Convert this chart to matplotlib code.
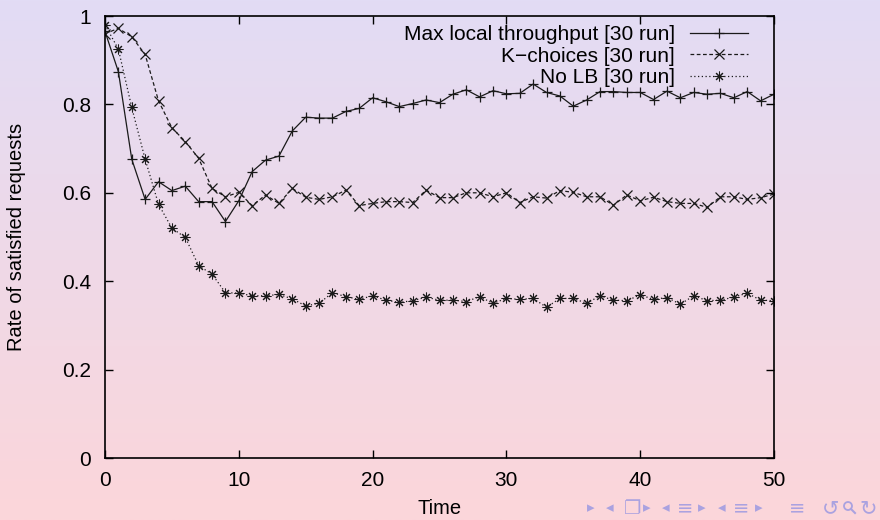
import numpy as np
import matplotlib
matplotlib.use("Agg")
import matplotlib.pyplot as plt
from matplotlib.colors import to_rgb
from matplotlib.patches import Ellipse
from matplotlib.lines import Line2D

# Data (time steps 0..50)
time = list(range(51))

max_local = [0.965, 0.874, 0.676, 0.585, 0.625, 0.605, 0.615, 0.580, 0.580, 0.535,
             0.582, 0.648, 0.674, 0.683, 0.740, 0.771, 0.769, 0.769, 0.784, 0.791,
             0.815, 0.806, 0.795, 0.802, 0.810, 0.804, 0.823, 0.833, 0.817, 0.831,
             0.824, 0.825, 0.846, 0.827, 0.819, 0.796, 0.810, 0.829, 0.829, 0.827,
             0.827, 0.811, 0.830, 0.815, 0.827, 0.823, 0.825, 0.815, 0.829, 0.808,
             0.823]

k_choices = [0.960, 0.972, 0.953, 0.913, 0.808, 0.747, 0.716, 0.678, 0.610, 0.591,
             0.601, 0.571, 0.595, 0.576, 0.610, 0.590, 0.585, 0.591, 0.606, 0.571,
             0.576, 0.580, 0.580, 0.578, 0.606, 0.589, 0.589, 0.600, 0.600, 0.591,
             0.600, 0.578, 0.591, 0.588, 0.605, 0.601, 0.591, 0.591, 0.572, 0.595,
             0.582, 0.590, 0.580, 0.576, 0.576, 0.567, 0.591, 0.591, 0.585, 0.589,
             0.597]

no_lb = [0.980, 0.925, 0.793, 0.676, 0.574, 0.520, 0.499, 0.435, 0.416, 0.374,
         0.373, 0.367, 0.367, 0.370, 0.360, 0.344, 0.350, 0.374, 0.365, 0.359,
         0.367, 0.357, 0.352, 0.356, 0.364, 0.357, 0.357, 0.354, 0.365, 0.350,
         0.361, 0.359, 0.361, 0.341, 0.361, 0.361, 0.350, 0.367, 0.357, 0.356,
         0.369, 0.359, 0.363, 0.348, 0.367, 0.356, 0.357, 0.364, 0.373, 0.357,
         0.356]

labels = ["Max local throughput [30 run]", "K\u2212choices [30 run]", "No LB [30 run]"]
x_ticks = [0, 10, 20, 30, 40, 50]
y_ticks = [0, 0.2, 0.4, 0.6, 0.8, 1]
y_tick_labels = ["0", "0.2", "0.4", "0.6", "0.8", "1"]

plt.rcParams['font.family'] = ['Liberation Sans', 'DejaVu Sans']

fig = plt.figure(figsize=(8.8, 5.2), dpi=100)

# Slide background: lavender at the top fading to pink at the bottom
top = np.array(to_rgb("#e2dcf5"))
bottom = np.array(to_rgb("#fcd6da"))
frac = np.linspace(0, 1, 256)[:, None]
grad = (top * (1 - frac) + bottom * frac)[:, None, :]
bg = fig.add_axes([0, 0, 1, 1], zorder=0)
bg.imshow(grad, aspect='auto', extent=[0, 1, 0, 1])
bg.axis('off')

ax = fig.add_axes([105 / 880, 1 - 458 / 520, 669 / 880, 442 / 520], zorder=1)
ax.patch.set_alpha(0)

line_col = '#1a1a1a'
ax.plot(time, max_local, color=line_col, lw=0.9, marker='+', ms=7.5, mew=0.9,
        label=labels[0])
ax.plot(time, k_choices, color=line_col, lw=0.9, dashes=(3, 2), marker='x', ms=6.5,
        mew=0.9, label=labels[1])
ax.plot(time, no_lb, color=line_col, lw=0.9, dashes=(1, 2), marker=(8, 2, 0), ms=7,
        mew=0.75, label=labels[2])

ax.set_xlim(0, 50)
ax.set_ylim(0, 1)
ax.set_xticks(x_ticks)
ax.set_yticks(y_ticks)
ax.set_yticklabels(y_tick_labels)
ax.tick_params(direction='in', length=6, width=1, top=True, right=True,
               labelsize=15)
ax.tick_params(axis='x', pad=9)
ax.tick_params(axis='y', pad=10)
for sp in ax.spines.values():
    sp.set_linewidth(1.2)

ax.set_xlabel("Time", fontsize=14.5)
ax.xaxis.set_label_coords(0.5, -0.093)
ax.set_ylabel("Rate of satisfied requests", fontsize=14.5)
ax.yaxis.set_label_coords(-0.118, 0.5)

ax.legend(loc='upper right', bbox_to_anchor=(0.961, 0.98), frameon=False,
          markerfirst=False, fontsize=15, handlelength=2.8, handletextpad=0.7,
          labelspacing=0.13, borderaxespad=0, borderpad=0)

# Beamer navigation symbols at the bottom right
nav_col = '#aaa2e0'
nav = [("\u25b8", 591, 11), ("\u25c2", 610, 11), ("\u2750", 633, 14),
       ("\u25b8", 647, 11), ("\u25c2", 666, 11), ("\u2261", 685, 14),
       ("\u25b8", 702, 11), ("\u25c2", 722, 11), ("\u2261", 741, 14),
       ("\u25b8", 759, 11), ("\u2261", 797, 14), ("\u21ba", 831, 15),
       ("\u21bb", 868, 15)]
for g, xp, fs in nav:
    fig.text(xp / 880, 1 - 508 / 520, g, color=nav_col, fontsize=fs,
             ha='center', va='center', family=['DejaVu Sans'])

# magnifier icon (no installed font has it), drawn as a small ring and handle
fig.add_artist(Ellipse((848 / 880, 1 - 506 / 520), 8 / 880, 8 / 520, fill=False,
                       edgecolor=nav_col, lw=1.3, transform=fig.transFigure))
fig.add_artist(Line2D([851 / 880, 855 / 880], [1 - 509 / 520, 1 - 513 / 520],
                      color=nav_col, lw=1.5, transform=fig.transFigure))

fig.savefig("out.png", dpi=100)
